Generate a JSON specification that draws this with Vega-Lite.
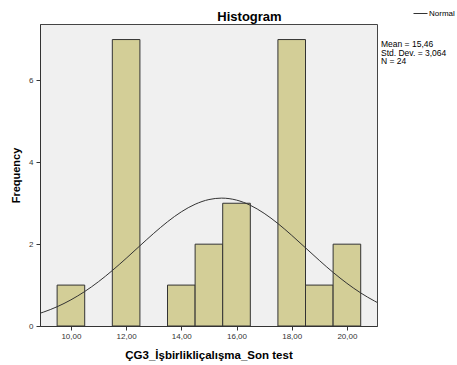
{
  "$schema": "https://vega.github.io/schema/vega-lite/v6.json",
  "width": 337,
  "height": 302,
  "autosize": {"type": "none"},
  "padding": {"left": 40, "top": 24, "right": 80, "bottom": 39},
  "background": "white",
  "title": {
    "text": "Histogram",
    "font": "Liberation Sans",
    "fontSize": 13,
    "fontWeight": "bold",
    "color": "#000000",
    "dx": 41,
    "dy": 33,
    "offset": 5,
    "baseline": "alphabetic"
  },
  "config": {
    "font": "Liberation Sans",
    "view": {"fill": "#f0f0f0", "stroke": "#444444", "strokeWidth": 1}
  },
  "datasets": {
    "bins": [
      {"score": 10, "lo": 9.5, "hi": 10.5, "count": 1},
      {"score": 12, "lo": 11.5, "hi": 12.5, "count": 7},
      {"score": 14, "lo": 13.5, "hi": 14.5, "count": 1},
      {"score": 15, "lo": 14.5, "hi": 15.5, "count": 2},
      {"score": 16, "lo": 15.5, "hi": 16.5, "count": 3},
      {"score": 18, "lo": 17.5, "hi": 18.5, "count": 7},
      {"score": 19, "lo": 18.5, "hi": 19.5, "count": 1},
      {"score": 20, "lo": 19.5, "hi": 20.5, "count": 2}
    ],
    "normal": [
      {"x": 8.88, "freq": 0.311},
      {"x": 9.0, "freq": 0.338},
      {"x": 9.5, "freq": 0.471},
      {"x": 10.0, "freq": 0.639},
      {"x": 10.5, "freq": 0.843},
      {"x": 11.0, "freq": 1.083},
      {"x": 11.5, "freq": 1.356},
      {"x": 12.0, "freq": 1.652},
      {"x": 12.5, "freq": 1.960},
      {"x": 13.0, "freq": 2.264},
      {"x": 13.5, "freq": 2.547},
      {"x": 14.0, "freq": 2.790},
      {"x": 14.5, "freq": 2.975},
      {"x": 15.0, "freq": 3.090},
      {"x": 15.46, "freq": 3.125},
      {"x": 16.0, "freq": 3.077},
      {"x": 16.5, "freq": 2.950},
      {"x": 17.0, "freq": 2.754},
      {"x": 17.5, "freq": 2.504},
      {"x": 18.0, "freq": 2.216},
      {"x": 18.5, "freq": 1.910},
      {"x": 19.0, "freq": 1.603},
      {"x": 19.5, "freq": 1.310},
      {"x": 20.0, "freq": 1.043},
      {"x": 20.5, "freq": 0.808},
      {"x": 21.0, "freq": 0.610},
      {"x": 21.09, "freq": 0.578}
    ]
  },
  "layer": [
    {
      "data": {"name": "bins"},
      "mark": {"type": "rect", "fill": "#d3ce97", "stroke": "#333333", "strokeWidth": 1},
      "encoding": {
        "x": {
          "field": "lo",
          "type": "quantitative",
          "scale": {"domain": [8.88, 21.09], "nice": false, "zero": false},
          "axis": {
            "title": "ÇG3_İşbirlikliçalışma_Son test",
            "values": [10, 12, 14, 16, 18, 20],
            "labelExpr": "replace(format(datum.value, '.2f'), '.', ',')",
            "grid": false,
            "domainColor": "#333333",
            "tickColor": "#333333",
            "tickSize": 4,
            "labelFontSize": 8,
            "labelColor": "#333333",
            "labelPadding": 2,
            "titleFontSize": 11.5,
            "titleFontWeight": "bold",
            "titleColor": "#000000",
            "titleY": 32,
            "titleBaseline": "alphabetic"
          }
        },
        "x2": {"field": "hi"},
        "y": {
          "field": "count",
          "type": "quantitative",
          "scale": {"domain": [0, 7.38], "nice": false},
          "axis": {
            "title": "Frequency",
            "values": [0, 2, 4, 6],
            "format": "d",
            "grid": false,
            "domainColor": "#333333",
            "tickColor": "#333333",
            "tickSize": 4,
            "labelFontSize": 8,
            "labelColor": "#333333",
            "labelPadding": 3,
            "titleFontSize": 11,
            "titleFontWeight": "bold",
            "titleColor": "#000000",
            "titleX": -24,
            "titleY": 151,
            "titleBaseline": "middle"
          }
        },
        "y2": {"datum": 0}
      }
    },
    {
      "data": {"name": "normal"},
      "mark": {"type": "line", "strokeWidth": 1, "interpolate": "monotone"},
      "encoding": {
        "x": {"field": "x", "type": "quantitative"},
        "y": {"field": "freq", "type": "quantitative"},
        "stroke": {
          "datum": "Normal",
          "type": "nominal",
          "scale": {"range": ["#333333"]},
          "legend": {
            "orient": "none",
            "legendX": 341,
            "legendY": -18,
            "padding": 0,
            "title": ["Mean = 15,46", "Std. Dev. = 3,064", "N = 24"],
            "titleOrient": "bottom",
            "titleAnchor": "start",
            "titleAlign": "left",
            "titleFontSize": 8.5,
            "titleFontWeight": "normal",
            "titleLineHeight": 8.6,
            "titleColor": "#000000",
            "titlePadding": 22,
            "titleLimit": 200,
            "symbolType": "stroke",
            "symbolSize": 196,
            "symbolStrokeWidth": 1,
            "symbolOffset": 32,
            "labelOffset": 1,
            "labelFontSize": 8,
            "labelColor": "#000000",
            "labelLimit": 100
          }
        }
      }
    }
  ]
}
